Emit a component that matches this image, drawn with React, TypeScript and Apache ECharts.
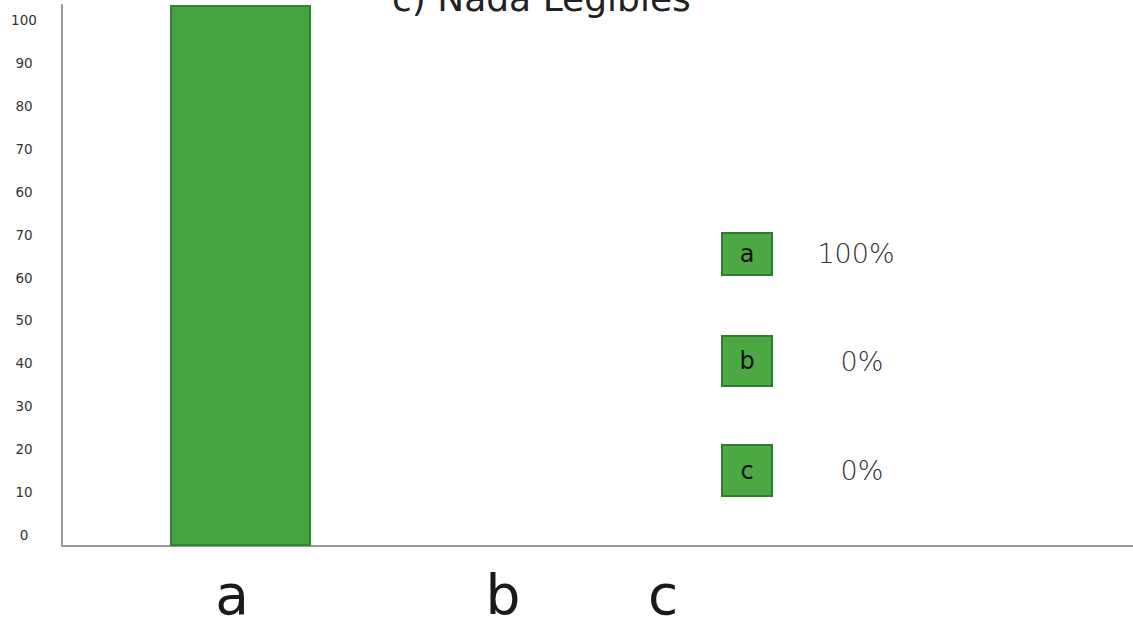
import React, { useEffect, useRef } from "react";
import * as echarts from "echarts";

const titleText = "c) Nada Legibles";
const categories = ["a", "b", "c"];
const values = [100, 0, 0];
const yTickLabels = ["0", "10", "20", "30", "40", "50", "60", "70", "60", "70", "80", "90", "100"];

// layout only (positions of the side key)
const keyBoxes = [
  { x: 722, y: 233, w: 50, h: 42 },
  { x: 722, y: 336, w: 50, h: 50 },
  { x: 722, y: 445, w: 50, h: 51 },
];
const keyTextPos = [
  { x: 856, y: 253 },
  { x: 862, y: 361 },
  { x: 862, y: 470 },
];
// horizontal shift of category labels (right padding)
const labelShift = [17, 189, 583];

const FONT = "DejaVu Sans";

export default function App() {
  const ref = useRef<HTMLDivElement>(null);
  useEffect(() => {
    document.body.style.margin = "0";
    const chart = echarts.init(ref.current!, null, { renderer: "svg" });
    const rich: Record<string, any> = {};
    categories.forEach((c, i) => {
      rich["l" + i] = {
        fontFamily: FONT,
        fontSize: 55,
        lineHeight: 46,
        color: "#1a1a1a",
        padding: [0, labelShift[i], 0, 0],
      };
    });
    const graphic: any[] = [];
    categories.forEach((c, i) => {
      const b = keyBoxes[i];
      graphic.push({
        type: "rect",
        shape: { x: b.x, y: b.y, width: b.w, height: b.h },
        style: { fill: "#4ba843", stroke: "#2e7a36", lineWidth: 2 },
      });
      graphic.push({
        type: "text",
        x: b.x + b.w / 2,
        y: b.y + b.h / 2,
        style: {
          text: c,
          fontFamily: FONT,
          fontSize: 24,
          fill: "#111",
          align: "center",
          verticalAlign: "middle",
        },
      });
      graphic.push({
        type: "text",
        x: keyTextPos[i].x,
        y: keyTextPos[i].y,
        style: {
          text: `${values[i]}%`,
          fontFamily: FONT,
          fontSize: 27,
          fontWeight: 300,
          fill: "#333",
          align: "center",
          verticalAlign: "middle",
        },
      });
    });
    chart.setOption({
      animation: false,
      backgroundColor: "#fff",
      title: {
        text: titleText,
        left: 387,
        top: -25,
        textStyle: { fontFamily: FONT, fontSize: 36, fontWeight: "normal", color: "#222" },
      },
      grid: [
        { left: 62, right: 0, top: 5, bottom: 85, containLabel: false, outerBoundsMode: "none" },
        { left: 40, width: 10, top: 20, bottom: 96, containLabel: false, outerBoundsMode: "none" },
      ],
      xAxis: [
        {
          type: "category",
          gridIndex: 0,
          data: categories,
          axisLine: { show: true, lineStyle: { color: "#999", width: 2 } },
          axisTick: { show: false },
          axisLabel: {
            margin: 26,
            interval: 0,
            hideOverlap: false,
            formatter: (v: string) => `{l${categories.indexOf(v)}|${v}}`,
            rich,
          },
        },
        { type: "value", gridIndex: 1, show: false },
      ],
      yAxis: [
        {
          type: "value",
          gridIndex: 0,
          min: 0,
          max: 100,
          axisLine: { show: true, lineStyle: { color: "#999", width: 2 } },
          axisTick: { show: false },
          axisLabel: { show: false },
          splitLine: { show: false },
        },
        {
          type: "category",
          gridIndex: 1,
          data: yTickLabels,
          boundaryGap: false,
          axisLine: { show: false },
          axisTick: { show: false },
          splitLine: { show: false },
          axisLabel: {
            margin: 16,
            align: "center",
            interval: 0,
            fontFamily: FONT,
            fontSize: 13.5,
            color: "#333",
          },
        },
      ],
      series: [
        {
          type: "bar",
          xAxisIndex: 0,
          yAxisIndex: 0,
          data: values.map((v) => ({
            value: v,
            itemStyle: v === 0 ? { borderWidth: 0, opacity: 0 } : {},
          })),
          barWidth: 141,
          itemStyle: { color: "#42a33f", borderColor: "#2f8535", borderWidth: 2 },
        },
      ],
      graphic,
    });
    return () => chart.dispose();
  }, []);
  return <div ref={ref} style={{ width: 1133, height: 631 }} />;
}
